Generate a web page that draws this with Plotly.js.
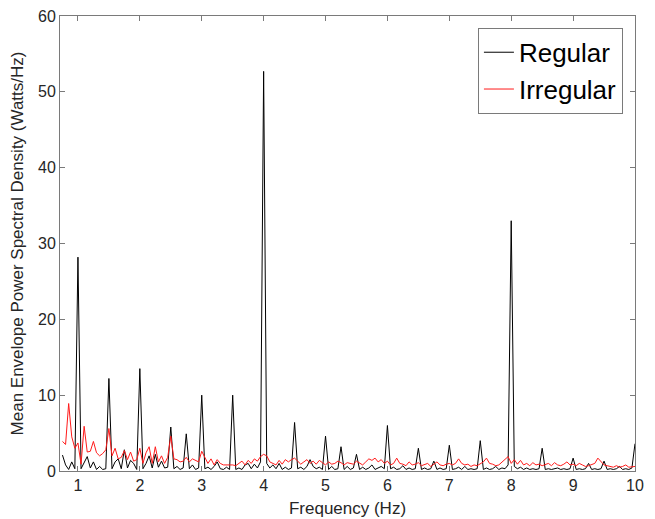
<!DOCTYPE html>
<html>
<head>
<meta charset="utf-8">
<script src="https://cdn.plot.ly/plotly-3.0.1.min.js"></script>
<style>html,body{margin:0;padding:0;background:#fff;}#chart{width:655px;height:519px;}</style>
</head>
<body>
<div id="chart"></div>
<script>
// Frequency grid: first value and step (Hz)
const freqStart = 0.75;
const freqStep = 0.05;

// Regular: mean envelope PSD, 0.75 .. 10.00 Hz
const regular = [
  2.1, 0.8, 0.2, 1.2, 0.3,
  28.2, 0.3, 1.2, 1.9, 0.4, 1.2, 0.2, 0.6, 0.2, 0.3,
  12.2, 0.3, 1.2, 1.6, 0.3, 2.8, 0.4, 1.4, 1.0, 0.2,
  13.5, 0.3, 1.0, 2.0, 0.4, 2.2, 0.5, 1.3, 0.4, 0.5,
  5.8, 0.3, 0.6, 0.2, 0.4, 4.9, 0.3, 0.8, 0.2, 0.4,
  10.0, 0.3, 0.5, 0.2, 0.6, 1.2, 0.3, 0.2, 0.5, 0.2,
  10.0, 0.2, 0.4, 0.2, 0.8, 1.0, 0.3, 0.9, 0.4, 1.2,
  52.7, 1.0, 0.4, 0.8, 0.3, 1.0, 0.2, 0.5, 0.2, 0.4,
  6.4, 0.3, 0.5, 0.2, 0.6, 1.5, 0.6, 0.3, 0.5, 0.2,
  4.6, 0.2, 0.6, 0.2, 0.3, 3.2, 0.2, 0.6, 0.2, 0.4,
  2.2, 0.2, 0.5, 0.2, 0.4, 0.8, 0.2, 0.4, 0.6, 0.3,
  6.0, 0.3, 0.5, 0.2, 0.3, 0.7, 0.2, 0.4, 0.2, 0.3,
  3.0, 0.2, 0.4, 0.2, 0.3, 1.3, 0.2, 0.4, 0.2, 0.3,
  3.4, 0.2, 0.3, 0.5, 0.2, 0.6, 0.2, 0.3, 0.2, 0.3,
  4.0, 0.2, 0.4, 0.2, 0.3, 0.6, 0.2, 0.4, 0.3, 0.8,
  33.0, 0.6, 0.3, 0.5, 0.2, 0.4, 0.2, 0.3, 0.2, 0.3,
  3.0, 0.2, 0.3, 0.2, 0.3, 0.4, 0.2, 0.3, 0.2, 0.3,
  1.7, 0.2, 0.3, 0.2, 0.3, 1.0, 0.2, 0.3, 0.2, 0.3,
  1.3, 0.2, 0.3, 0.2, 0.3, 0.6, 0.2, 0.3, 0.2, 0.4,
  3.6
];

// Irregular: mean envelope PSD, 0.75 .. 10.00 Hz
const irregular = [
  3.9, 3.5, 8.9, 4.5, 3.0,
  3.7, 0.9, 5.9, 2.5, 2.6, 3.9, 2.4, 2.0, 2.3, 2.8,
  5.6, 2.0, 3.0, 1.6, 1.8, 2.7, 1.5, 2.5, 1.3, 1.5,
  3.0, 1.0, 2.4, 3.2, 1.0, 3.2, 1.2, 2.0, 1.0, 1.8,
  4.6, 1.6, 1.5, 1.2, 1.3, 1.8, 1.2, 1.6, 1.4, 1.2,
  2.6, 1.8, 1.0, 1.6, 0.8, 1.5, 1.0, 0.8, 0.8, 0.9,
  0.8, 0.7, 1.0, 1.3, 0.8, 1.4, 1.0, 1.6, 1.3, 1.9,
  2.2, 2.0, 1.2, 1.0, 0.8, 1.4, 0.9, 1.5, 1.2, 1.5,
  1.7, 1.3, 0.9, 1.2, 1.5, 1.0, 1.3, 0.9, 1.4, 1.1,
  0.8, 1.2, 0.9, 1.0, 1.3, 1.1, 0.8, 1.1, 1.0, 0.9,
  1.3, 1.0, 0.8, 1.2, 1.6, 1.4, 1.7, 1.2, 1.5, 1.0,
  1.3, 0.8, 1.0, 1.7, 1.0, 0.9, 0.7, 1.2, 0.8, 0.9,
  1.1, 0.7, 0.8, 1.0, 0.6, 0.9, 1.2, 0.8, 0.7, 0.9,
  1.0, 0.8, 1.0, 1.6, 1.0, 0.8, 0.9, 0.6, 0.8, 0.7,
  0.9, 1.2, 1.7, 1.0, 0.9, 0.7, 0.8, 1.2, 1.6, 1.9,
  1.0, 1.5, 0.9, 1.4, 0.8, 1.0, 0.7, 1.1, 0.8, 0.9,
  0.7, 0.8, 1.0, 0.7, 1.1, 0.8, 0.7, 0.9, 1.2, 0.8,
  0.9, 0.7, 1.0, 0.8, 0.6, 0.7, 0.8, 1.0, 1.7, 1.2,
  0.8, 0.7, 0.6, 0.5, 0.7, 0.5, 0.6, 0.8, 0.5, 0.6,
  0.6
];

const seriesNames = ['Regular', 'Irregular'];
const xTicks = [1, 2, 3, 4, 5, 6, 7, 8, 9, 10];
const yTicks = [0, 10, 20, 30, 40, 50, 60];

const font = 'Liberation Sans, Arial, Helvetica, sans-serif';
const axisColor = '#7a7a7a';

const traces = [
  {
    type: 'scatter', mode: 'lines', name: seriesNames[0],
    x0: freqStart, dx: freqStep, y: regular,
    line: {color: '#000000', width: 1}
  },
  {
    type: 'scatter', mode: 'lines', name: seriesNames[1],
    x0: freqStart, dx: freqStep, y: irregular,
    line: {color: '#ff1a1a', width: 1}
  }
];

const axisCommon = {
  showgrid: false, zeroline: false,
  showline: true, linecolor: axisColor, linewidth: 1,
  mirror: 'ticks', ticks: 'inside', ticklen: 5, tickcolor: axisColor, tickwidth: 1,
  tickfont: {family: font, size: 16, color: '#262626'}
};

const layout = {
  width: 655, height: 519,
  margin: {l: 60, r: 20, t: 16, b: 48},
  paper_bgcolor: '#ffffff', plot_bgcolor: '#ffffff',
  showlegend: true,
  legend: {
    x: 0.979, y: 0.974, xanchor: 'right', yanchor: 'top',
    bgcolor: '#ffffff', bordercolor: axisColor, borderwidth: 1,
    font: {family: font, size: 26, color: '#000'},
    tracegroupgap: 0
  },
  xaxis: Object.assign({}, axisCommon, {
    range: [0.71, 10], tickvals: xTicks, ticktext: xTicks.map(String),
    title: {text: 'Frequency (Hz)', font: {family: font, size: 17, color: '#262626'}, standoff: 8}
  }),
  yaxis: Object.assign({}, axisCommon, {
    range: [0, 60], tickvals: yTicks, ticktext: yTicks.map(String),
    title: {text: 'Mean Envelope Power Spectral Density (Watts/Hz)', font: {family: font, size: 17, color: '#262626'}, standoff: 10}
  })
};

Plotly.newPlot('chart', traces, layout, {displayModeBar: false, staticPlot: true});
</script>
</body>
</html>
